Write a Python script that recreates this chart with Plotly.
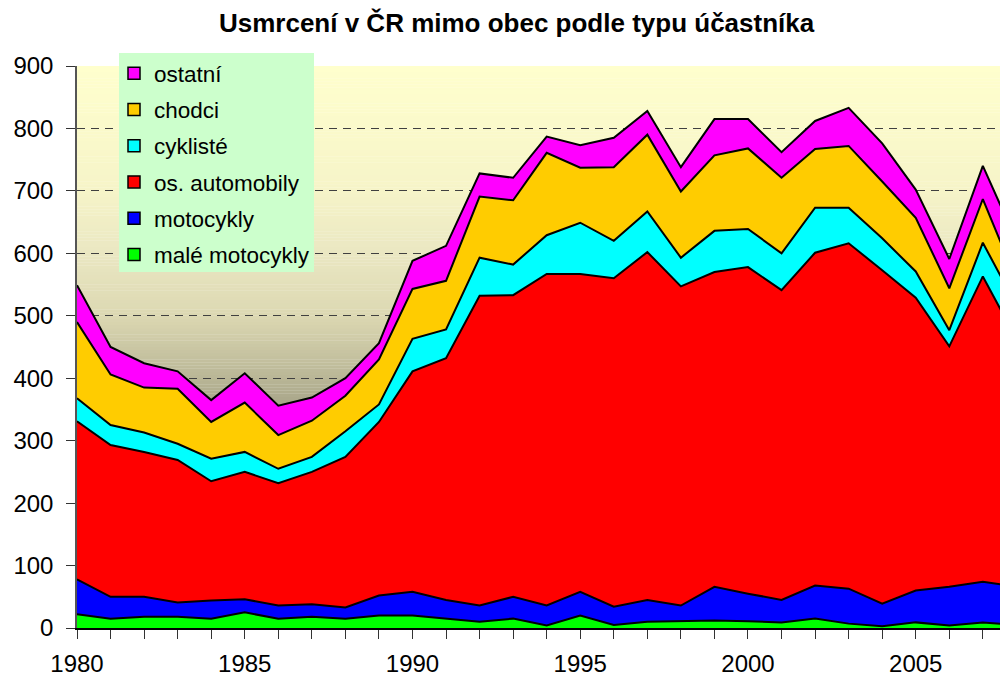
import plotly.graph_objects as go

years = list(range(1980, 2009))

male_motocykly = [22, 15, 18, 18, 15, 25, 15, 18, 15, 20, 20, 15, 10, 15, 4, 20, 5, 10, 11, 12,
                  11, 9, 15, 7, 3, 9, 4, 9, 5]
motocykly = [56, 35, 32, 23, 29, 21, 21, 20, 18, 32, 38, 30, 26, 35, 32, 38, 29, 35, 25, 54,
             44, 36, 53, 56, 36, 51, 62, 65, 61]
os_automobily = [253, 243, 232, 228, 191, 204, 196, 212, 241, 278, 353, 387, 496, 483, 531, 509,
                 526, 557, 511, 504, 523, 496, 533, 553, 534, 469, 385, 489, 397]
cykliste = [37, 32, 31, 26, 36, 32, 23, 24, 41, 28, 52, 46, 61, 49, 62, 82, 60, 65, 46, 66,
            61, 59, 72, 57, 51, 42, 26, 54, 53]
chodci = [122, 81, 72, 88, 59, 79, 54, 58, 57, 72, 80, 78, 98, 103, 132, 88, 118, 123, 106, 121,
          129, 121, 94, 99, 91, 86, 67, 70, 41]
ostatni = [59, 44, 39, 28, 35, 47, 47, 37, 28, 26, 45, 56, 37, 36, 26, 36, 47, 38, 39, 58,
           47, 41, 45, 61, 61, 45, 47, 53, 63]

series_names = ["malé motocykly", "motocykly", "os. automobily", "cyklisté", "chodci", "ostatní"]
series_values = [male_motocykly, motocykly, os_automobily, cykliste, chodci, ostatni]
series_colors = ["#00FF00", "#0000FF", "#FF0000", "#00FFFF", "#FFCC00", "#FF00FF"]

y_ticks = [0, 100, 200, 300, 400, 500, 600, 700, 800, 900]
x_ticks = [1980, 1985, 1990, 1995, 2000, 2005]

FONT = "Liberation Sans, Arial, sans-serif"

fig = go.Figure()

for name, vals, col in zip(series_names, series_values, series_colors):
    fig.add_trace(go.Scatter(
        x=years, y=vals, name=name, stackgroup="one", mode="lines",
        line=dict(color="black", width=2), fillcolor=col,
        showlegend=False, hoverinfo="skip"))

# legend entries (square swatches)
for name, col in zip(reversed(series_names), reversed(series_colors)):
    fig.add_trace(go.Scatter(
        x=[None], y=[None], mode="markers", name=name, legendgroup=name,
        marker=dict(symbol="square", size=12, color=col, line=dict(color="black", width=1.5)),
        showlegend=True))

# background gradient (plot area)
stops = [(0, (120, 116, 96)), (350, (165, 162, 135)), (400, (185, 182, 150)),
         (500, (220, 216, 178)), (600, (234, 231, 194)), (700, (246, 244, 200)),
         (900, (255, 255, 205))]

def col_at(v):
    for (a, ca), (b, cb) in zip(stops[:-1], stops[1:]):
        if a <= v <= b:
            t = (v - a) / (b - a)
            return "rgb(%d,%d,%d)" % tuple(round(ca[i] + (cb[i] - ca[i]) * t) for i in range(3))
    return "rgb(255,255,205)"

shapes = []
step = 5
for lo in range(0, 900, step):
    shapes.append(dict(type="rect", xref="paper", yref="y", x0=0, x1=1, y0=lo, y1=lo + step + 0.5,
                       fillcolor=col_at(lo + step / 2), line=dict(width=0), layer="below"))

# figure-pixel geometry (page is offset by the 8px body margin)
W, H = 1000, 669
PL, PT, PH = 69, 58, 562
def px_x(p):
    return (p - PL) / (W - PL)
def px_y(p):
    return (PT + PH - p) / PH

# legend background box
shapes.append(dict(type="rect", xref="paper", yref="paper",
                   x0=px_x(111), x1=px_x(306), y0=px_y(264), y1=px_y(45),
                   fillcolor="#CCFFCC", line=dict(width=0), layer="above"))

fig.update_layout(
    width=W, height=H,
    margin=dict(l=PL, r=0, t=PT, b=H - PT - PH, autoexpand=False),
    paper_bgcolor="white", plot_bgcolor="rgba(0,0,0,0)",
    font=dict(family=FONT, color="black"),
    title=dict(text="<b>Usmrcení v ČR mimo obec podle typu účastníka</b>",
               font=dict(family=FONT, size=26, color="black"),
               xref="container", yref="container", x=(516.6 - 8) / W, y=1 - 14.5 / H,
               xanchor="center", yanchor="middle"),
    shapes=shapes,
    showlegend=True,
    legend=dict(x=px_x(106), y=px_y(44), xanchor="left", yanchor="top",
                bgcolor="rgba(0,0,0,0)", font=dict(family=FONT, size=22.5, color="black"),
                traceorder="grouped", tracegroupgap=4, itemwidth=30),
    xaxis=dict(range=[1980, 2007.75], tickmode="array", tickvals=x_ticks,
               ticktext=[str(v) for v in x_ticks],
               ticks="outside", ticklen=9, tickcolor="#333", tickwidth=1,
               minor=dict(dtick=1, tick0=1980, ticks="outside", ticklen=9, tickcolor="#333", tickwidth=1),
               showline=True, linecolor="black", linewidth=1.5,
               showgrid=False, zeroline=False, automargin=False,
               tickfont=dict(family=FONT, size=24, color="black"),
               ticklabelstandoff=4),
    yaxis=dict(range=[0, 900], tickmode="array", tickvals=y_ticks,
               ticks="outside", ticklen=9, tickcolor="#333", tickwidth=1,
               showline=True, linecolor="#555", linewidth=1.5,
               showgrid=True, gridcolor="#404040", gridwidth=1, griddash="8px,6px",
               zeroline=False, automargin=False,
               tickfont=dict(family=FONT, size=24, color="black"),
               ticklabelstandoff=8),
)

fig.write_html("out.html")
